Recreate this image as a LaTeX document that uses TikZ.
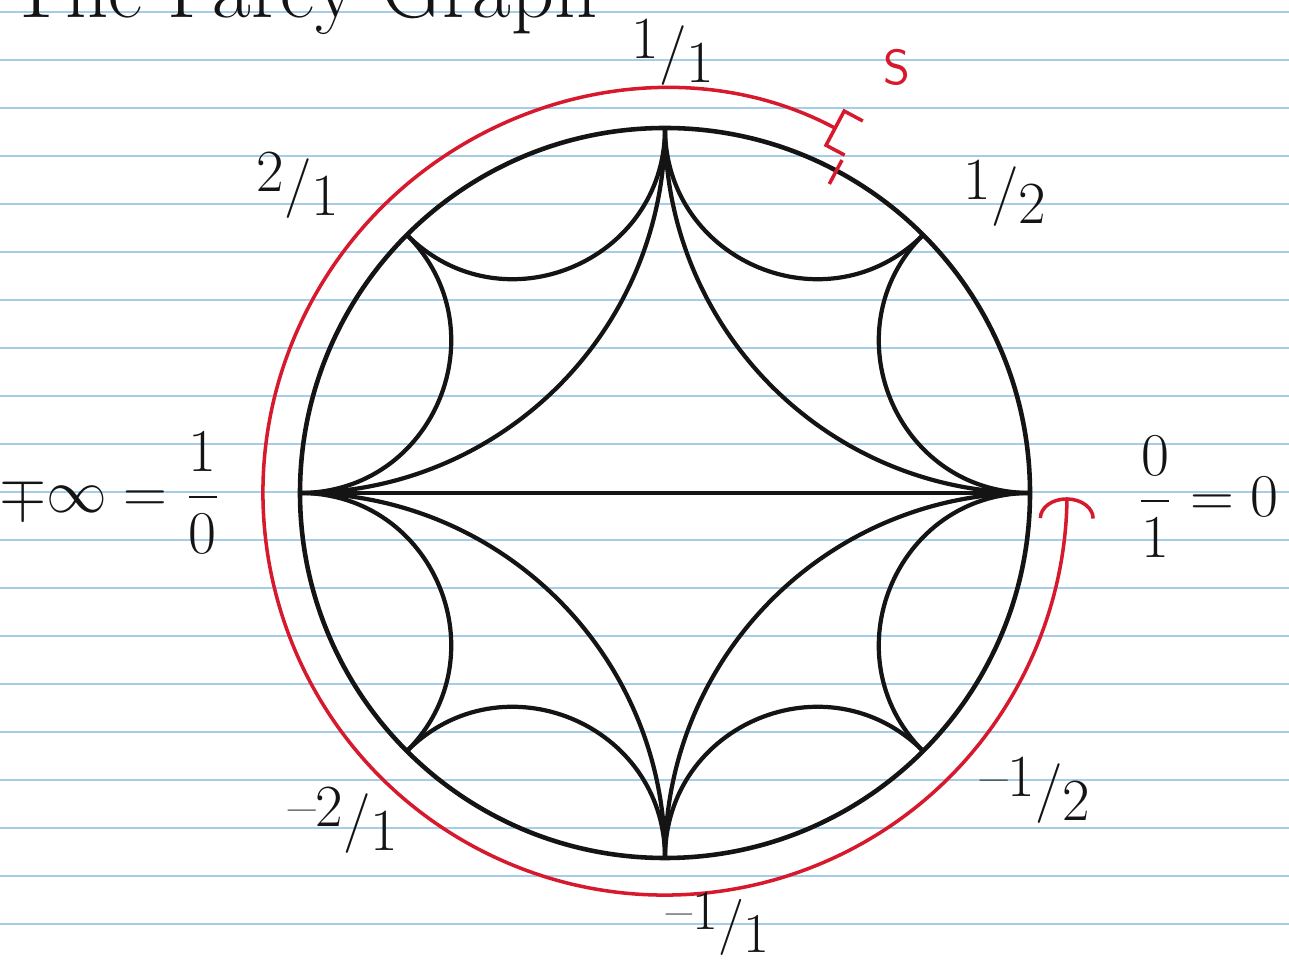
\documentclass[tikz,border=0pt]{standalone}
\usepackage{amsmath}
\usetikzlibrary{arrows.meta,calc}
\definecolor{ruleblue}{RGB}{165,205,230}
\definecolor{ink}{RGB}{20,20,20}
\definecolor{redink}{RGB}{215,25,45}
\newcommand{\slfr}[2]{\raisebox{0.2em}{#1}/\raisebox{-0.2em}{#2}}
\tikzset{
  ruleline/.style={draw=ruleblue, line width=0.7pt},
  rim/.style={draw=ink, line width=1.3pt},
  geo/.style={draw=ink, line width=1.2pt},
  geoq/.style={geo, bend right=45},
  geoe/.style={geo, bend right=67.5, looseness=1.23},
  redline/.style={draw=redink, line width=1pt},
  lab/.style={text=ink, font=\fontsize{17}{20}\selectfont, inner sep=1pt},
  title/.style={text=ink, font=\fontsize{24}{28}\selectfont, inner sep=0pt},
  slabel/.style={text=redink, font=\fontsize{14}{16}\selectfont\sffamily, inner sep=1pt}
}
\begin{document}
\begin{tikzpicture}[x=0.01cm, y=0.01cm]
  \useasboundingbox (0,0) rectangle (1289,964);
  \clip (0,0) rectangle (1289,964);
  \fill[white] (0,0) rectangle (1289,964);
  % ruled paper
  \foreach \k in {0,...,19} \draw[ruleline] (0,{952-48*\k}) -- (1289,{952-48*\k});
  % title (cut off at the top, as in the scan)
  \node[title, anchor=base west] (ttl) at (8,946) {The Farey Graph};
  % Farey disc
  \coordinate (O) at (665,471);
  \draw[rim] (O) circle[radius=365];
  \foreach \n/\a in {vinf/180, vtwo/135, vone/90, vhalf/45, vzero/0, vmhalf/-45, vmone/-90, vmtwo/-135}
    \coordinate (\n) at ($(O)+(\a:365)$);
  % geodesics
  \draw[geo] (vinf) -- (vzero);
  \draw[geoq] (vinf) to (vone);
  \draw[geoq] (vone) to (vzero);
  \draw[geoq] (vzero) to (vmone);
  \draw[geoq] (vmone) to (vinf);
  \draw[geoe] (vinf) to (vtwo);
  \draw[geoe] (vtwo) to (vone);
  \draw[geoe] (vone) to (vhalf);
  \draw[geoe] (vhalf) to (vzero);
  \draw[geoe] (vzero) to (vmhalf);
  \draw[geoe] (vmhalf) to (vmone);
  \draw[geoe] (vmone) to (vmtwo);
  \draw[geoe] (vmtwo) to (vinf);
  % red path S
  \coordinate (sStart) at ($(O)+(62:402)$);
  \coordinate (tickA) at ($(O)+(62:350)$);
  \coordinate (tickB) at ($(O)+(62:377)$);
  \draw[redline, {Bracket[reversed,width=12pt,length=6pt]}-{Arc Barb[width=16pt,length=6pt]}]
    (sStart) arc[start angle=62, end angle=359.4, radius=402];
  \draw[redline] (tickA) -- (tickB);
  \node[slabel] (S) at (897,897) {S};
  % labels
  \node[lab] (l11) at (673,912) {\slfr{1}{1}};
  \node[lab] (l21) at (298,779) {\slfr{2}{1}};
  \node[lab] (l12) at (1005,771) {\slfr{1}{2}};
  \node[lab] (linf) at (110,471) {$\mp\infty = \dfrac{1}{0}$};
  \node[lab] (l01) at (1208,467) {$\dfrac{0}{1} = 0$};
  \node[lab] (lm21) at (343,144) {\slfr{--2}{1}};
  \node[lab] (lm12) at (1035,174) {\slfr{--1}{2}};
  \node[lab, font=\fontsize{16}{19}\selectfont] (lm11) at (718,40) {\slfr{--1}{1}};
\end{tikzpicture}
\end{document}
